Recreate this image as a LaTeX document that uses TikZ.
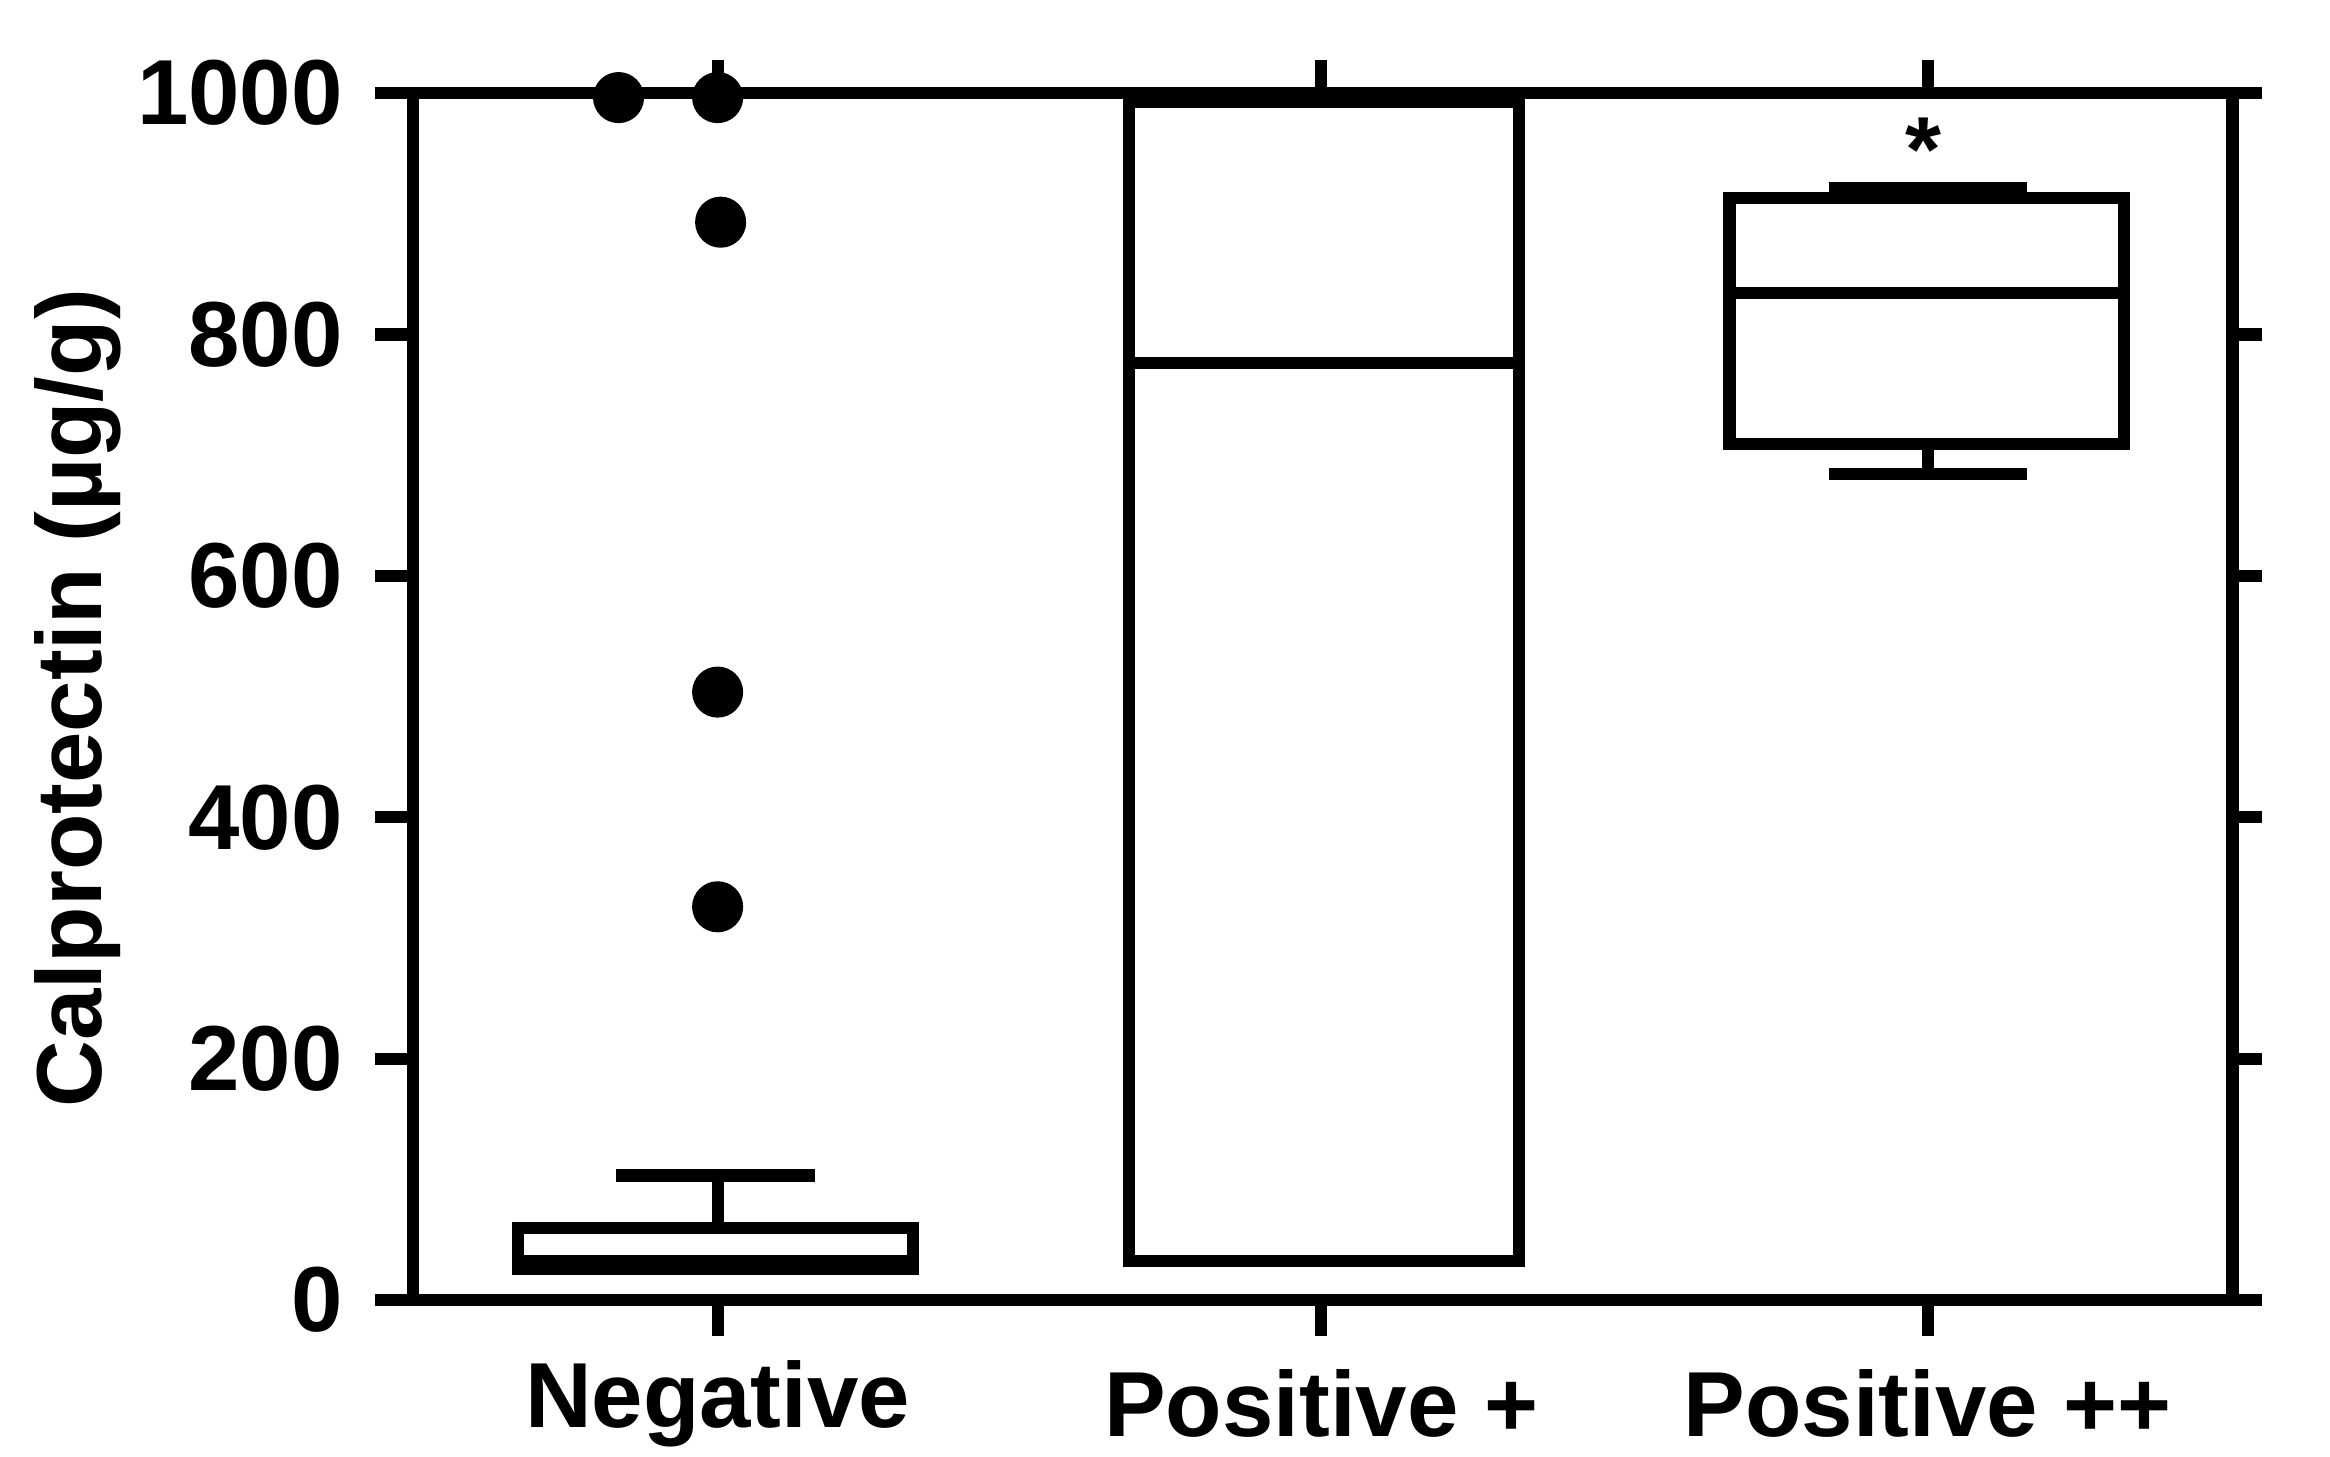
\documentclass[tikz,border=0pt]{standalone}
\usepackage{fontspec}
\setmainfont{Liberation Sans}
\begin{document}
\begin{tikzpicture}[x=0.01cm,y=-0.01cm,line width=2.3pt,
  lab/.style={font=\bfseries\fontsize{17.5}{20}\selectfont},
  dot/.style={circle,fill=black,inner sep=0pt,minimum size=0.34cm}]
\useasboundingbox (0,0) rectangle (1552,970);
% frame
\draw (250,62) -- (1507,62);
\draw (250,866) -- (1507,866);
\draw (275,62) -- (275,866);
\draw (1487,62) -- (1487,866);
\foreach \v/\t in {0/0,200/200,400/400,600/600,800/800,1000/1000}{
  \pgfmathsetmacro{\yy}{866-0.804*\v}
  \draw (250,\yy) -- (275,\yy);
  \draw (1487,\yy) -- (1507,\yy);
  \node[lab,anchor=east] (t\v) at (244,\yy) {\t};
}
\foreach \xx/\n/\t in {478/n/Negative,880/p/Positive +,1284/pp/Positive ++}{
  \draw (\xx,62) -- (\xx,40);
  \draw (\xx,866) -- (\xx,890);
  \node[lab] (x\n) at (\xx,935) {\t};
}
\node[lab,rotate=90] (ylab) at (52,465) {Calprotectin (\textmu g/g)};
% Negative
\draw (478,818) -- (478,783);
\draw (410,783) -- (543,783);
\draw (345,818) rectangle (608,845);
\draw (345,840) -- (608,840);
\node[dot] (d1) at (412,65) {};
\node[dot] (d2) at (478,65) {};
\node[dot] (d3) at (480,148) {};
\node[dot] (d4) at (478,461) {};
\node[dot] (d5) at (478,604) {};
% Positive +
\draw (752,68) rectangle (1012,840);
\draw (752,242) -- (1012,242);
% Positive ++
\draw (1284,132) -- (1284,125);
\draw (1218,125) -- (1350,125);
\draw (1152,132) rectangle (1415,296);
\draw (1152,195) -- (1415,195);
\draw (1284,296) -- (1284,316);
\draw (1218,316) -- (1350,316);
\node[lab] (ast) at (1281,100) {*};
\end{tikzpicture}
\end{document}
